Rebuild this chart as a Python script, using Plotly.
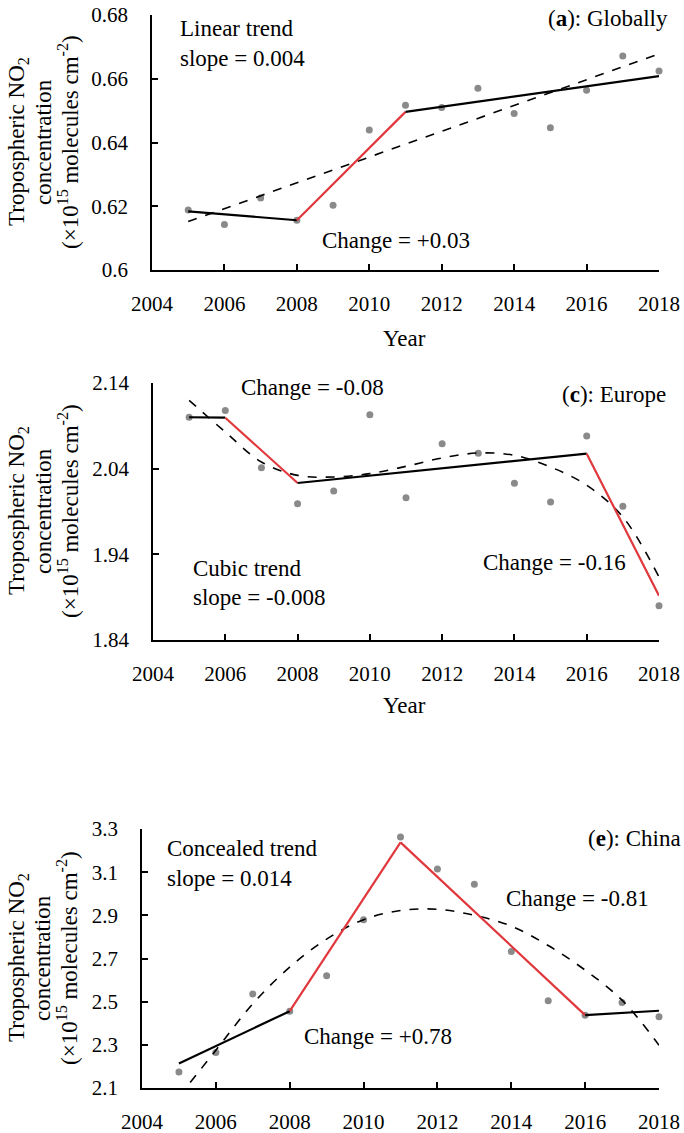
import plotly.graph_objects as go

years = list(range(2005, 2019))

# (a) globally
glob_no2 = [0.6188, 0.6143, 0.6226, 0.6156, 0.6203, 0.6439, 0.6517,
            0.6510, 0.6570, 0.6491, 0.6446, 0.6564, 0.6671, 0.6624]
glob_seg_years = [2005, 2008, 2011, 2018]
glob_seg_vals = [0.6184, 0.6156, 0.6496, 0.6608]
glob_trend_years = [2005, 2018]
glob_trend_vals = [0.6152, 0.6678]

# (c) europe
eu_no2 = [2.100, 2.108, 2.041, 1.999, 2.014, 2.103, 2.006,
          2.069, 2.058, 2.023, 2.001, 2.078, 1.996, 1.880]
eu_seg_years = [2005, 2006, 2008, 2016, 2018]
eu_seg_vals = [2.100, 2.0995, 2.0233, 2.0575, 1.8916]
eu_trend_vals = [2.1198, 2.0828, 2.0478, 2.0322, 2.0303, 2.0342, 2.0427,
                 2.0525, 2.0583, 2.0556, 2.0419, 2.0206, 1.9836, 1.9135]

# (e) china
cn_no2 = [2.174, 2.264, 2.535, 2.456, 2.620, 2.879, 3.2625,
          3.115, 3.044, 2.732, 2.504, 2.4375, 2.496, 2.430]
cn_seg_years = [2005, 2008, 2011, 2016, 2018]
cn_seg_vals = [2.213, 2.456, 3.238, 2.4375, 2.458]
cn_trend_vals = [2.06, 2.275, 2.49, 2.66, 2.79, 2.88, 2.922,
                 2.928, 2.90, 2.85, 2.76, 2.646, 2.507, 2.298]

W, H = 684, 1133
FONT = "Liberation Serif"
RED = "#e0383c"


def px(x, y):
    return x / W, 1 - y / H


fig = go.Figure()


def add_panel(n, pts, seg_x, seg_y, red_idx, tr_x, tr_y, spline):
    xa = "x" if n == 1 else "x%d" % n
    ya = "y" if n == 1 else "y%d" % n
    fig.add_trace(go.Scatter(x=years, y=pts, mode="markers", xaxis=xa, yaxis=ya,
                             marker=dict(color="#8a8a8a", size=7), cliponaxis=False))
    fig.add_trace(go.Scatter(x=tr_x, y=tr_y, mode="lines", xaxis=xa, yaxis=ya,
                             line=dict(color="black", width=1.6, dash="dash",
                                       shape="spline" if spline else "linear")))
    for i in range(len(seg_x) - 1):
        fig.add_trace(go.Scatter(x=seg_x[i:i + 2], y=seg_y[i:i + 2], mode="lines",
                                 xaxis=xa, yaxis=ya,
                                 line=dict(color=RED if i in red_idx else "black", width=2.2)))


add_panel(1, glob_no2, glob_seg_years, glob_seg_vals, [1], glob_trend_years, glob_trend_vals, False)
add_panel(2, eu_no2, eu_seg_years, eu_seg_vals, [1, 3], years, eu_trend_vals, True)
add_panel(3, cn_no2, cn_seg_years, cn_seg_vals, [1, 2], years, cn_trend_vals, True)

xcommon = dict(range=[2004, 2018], tick0=2004, dtick=2, showline=True, linecolor="black",
               linewidth=1.5, ticks="inside", ticklen=6, tickwidth=1.5, tickcolor="black",
               showgrid=False, zeroline=False, ticklabelstandoff=14, automargin=False,
               tickfont=dict(family=FONT, size=21, color="black"))
ycommon = dict(showline=True, linecolor="black", linewidth=1.5, ticks="inside", ticklen=6,
               tickwidth=1.5, tickcolor="black", showgrid=False, zeroline=False,
               ticklabelstandoff=18, automargin=False,
               tickfont=dict(family=FONT, size=21, color="black"))

fig.update_layout(
    width=W, height=H, margin=dict(l=0, r=0, t=0, b=0),
    paper_bgcolor="white", plot_bgcolor="white", showlegend=False,
    xaxis=dict(domain=[152 / W, 659 / W], anchor="y", **xcommon),
    yaxis=dict(domain=[1 - 270 / H, 1 - 15 / H], anchor="x", range=[0.6, 0.68],
               tick0=0.6, dtick=0.02, **ycommon),
    xaxis2=dict(domain=[153 / W, 659 / W], anchor="y2", **xcommon),
    yaxis2=dict(domain=[1 - 640 / H, 1 - 383 / H], anchor="x2", range=[1.84, 2.14],
                tick0=1.84, dtick=0.1, **ycommon),
    xaxis3=dict(domain=[142 / W, 659 / W], anchor="y3", **xcommon),
    yaxis3=dict(domain=[1 - 1088 / H, 1 - 829 / H], anchor="x3", range=[2.1, 3.3],
                tick0=2.1, dtick=0.2, **ycommon),
)


def note(text, x, y, xanchor="left", size=23, angle=0):
    ax, ay = px(x, y)
    fig.add_annotation(text=text, x=ax, y=ay, xref="paper", yref="paper",
                       xanchor=xanchor, yanchor="middle", showarrow=False, textangle=angle,
                       font=dict(family=FONT, size=size, color="black"))


# panel texts
note("Linear trend", 178, 28)
note("slope = 0.004", 178, 58)
note("(<b>a</b>): Globally", 670, 18, "right")
note("Change = +0.03", 320, 240)
note("Year", 405, 338, "center")

note("Change = -0.08", 239, 388)
note("(<b>c</b>): Europe", 668, 395, "right")
note("Cubic trend", 191, 568)
note("slope = -0.008", 191, 597)
note("Change = -0.16", 481, 562)
note("Year", 405, 705, "center")

note("Concealed trend", 165, 848)
note("slope = 0.014", 165, 878)
note("(<b>e</b>): China", 683, 838, "right")
note("Change = -0.81", 504, 898)
note("Change = +0.78", 302, 1036)

# rotated y titles
for cy in [142, 511, 958]:
    note("Tropospheric NO<sub>2</sub>", 18, cy, "center", 23, -90)
    note("concentration", 43, cy, "center", 23, -90)
    note("(×10<sup>15</sup> molecules cm<sup>-2</sup>)", 68, cy, "center", 23, -90)

# page has a default 8px body margin; drop it so the figure fills the window
fig.write_html("out.html", config={"displayModeBar": False},
               post_script="document.body.style.margin='0';document.body.style.overflow='hidden';")
